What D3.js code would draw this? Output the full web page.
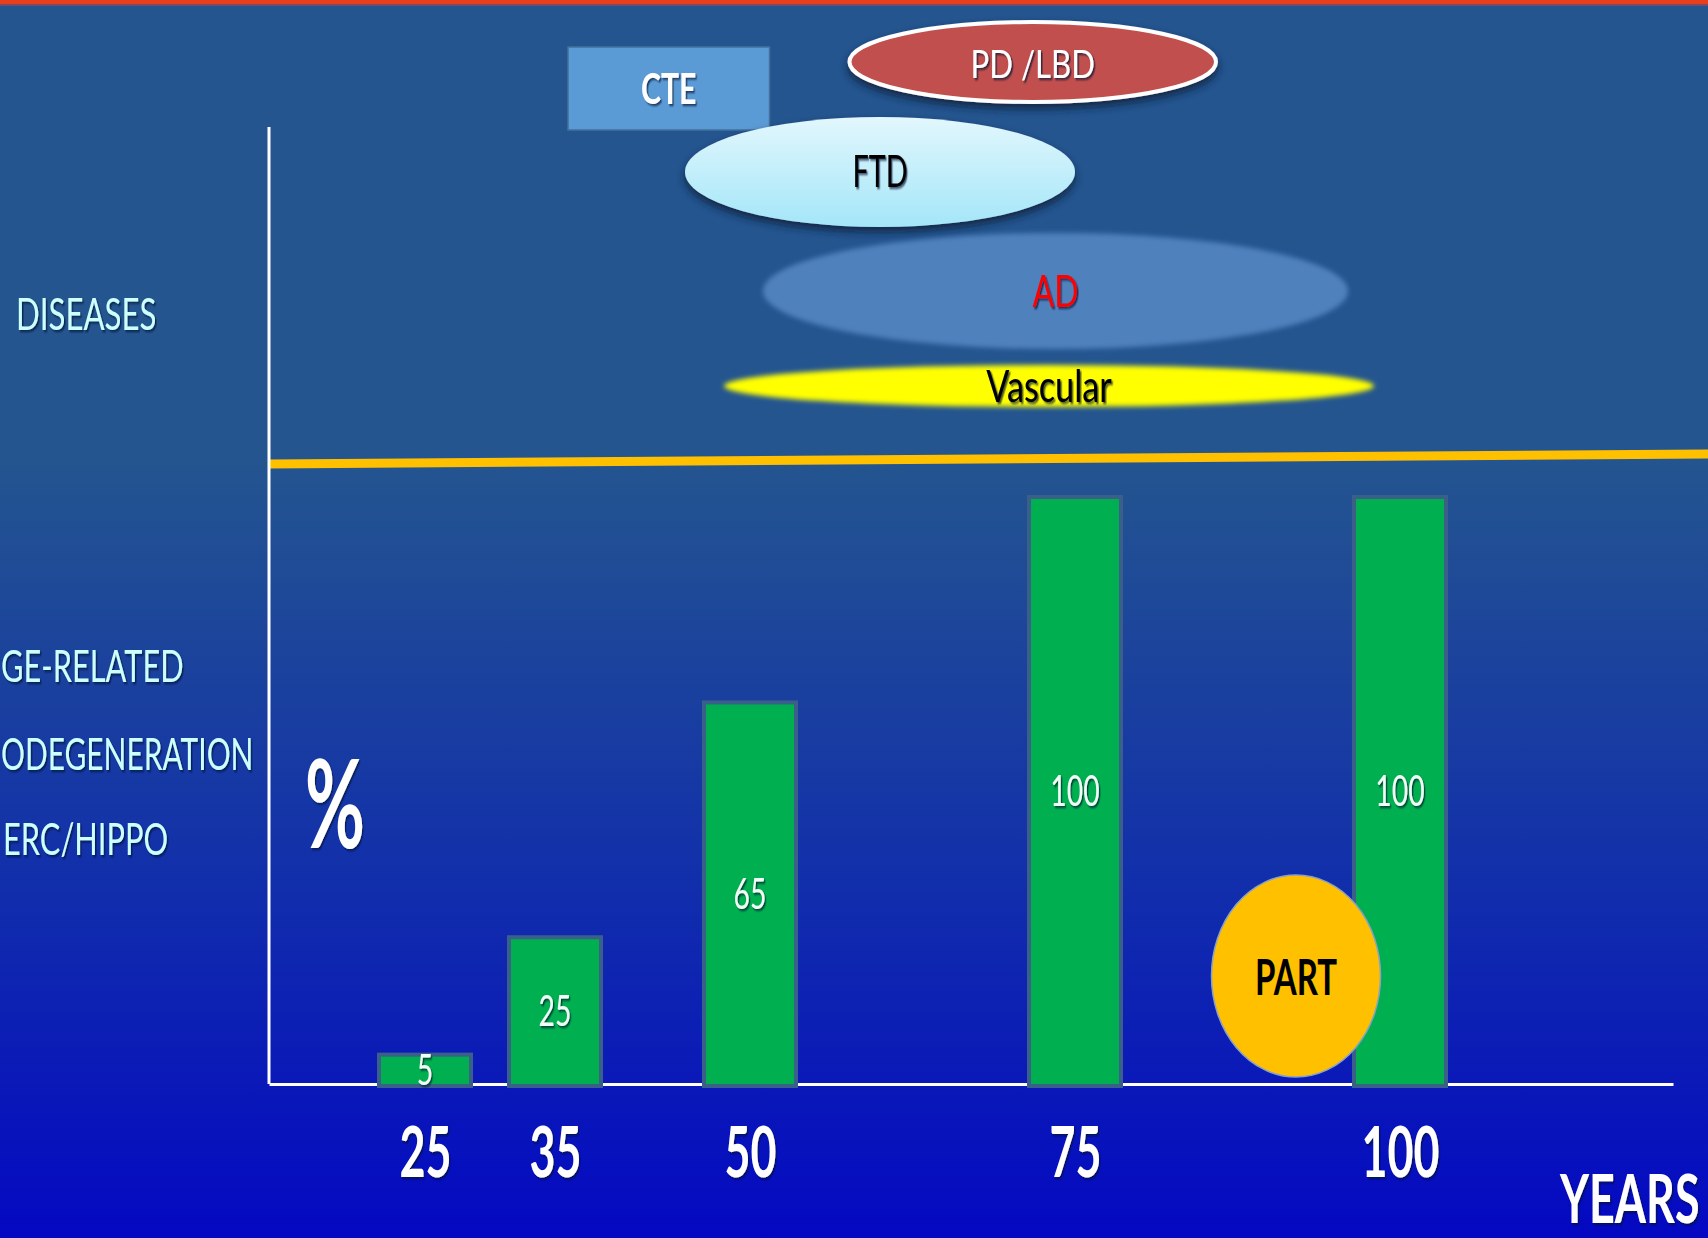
<!DOCTYPE html>
<html>
<head>
<meta charset="utf-8">
<script src="https://cdn.jsdelivr.net/npm/d3@7"></script>
<style>
  html, body { margin: 0; padding: 0; background: #24558f; overflow: hidden; }
  svg { display: block; font-family: Lato, "Open Sans", "DejaVu Sans", sans-serif; }
</style>
</head>
<body>
<svg id="chart" width="1708" height="1238"></svg>
<script>
// Ages (years) at which age-related neurodegeneration is shown
const ages = [25, 35, 50, 75, 100];
// Share of subjects (%) with age-related neurodegeneration in ERC/hippocampus
const percents = [5, 25, 65, 100, 100];

// Diseases and the age span (years) each one covers
const diseaseNames = ["CTE", "PD /LBD", "FTD", "AD", "Vascular"];
const diseaseAgeFrom = [36, 57.5, 45, 51, 48];
const diseaseAgeTo = [51.5, 86, 75, 96, 98];

// Primary age-related tauopathy and its age span
const partName = "PART";
const partAgeFrom = 85.5;
const partAgeTo = 98.5;

// Row captions
const diseaseRowLabel = "DISEASES";
const ageRowLabels = ["GE-RELATED", "ODEGENERATION", "ERC/HIPPO"];
const yUnitLabel = "%";
const xTitle = "YEARS";

// ---------------------------------------------------------------------------
const W = 1708, H = 1238;
const svg = d3.select("#chart");
const defs = svg.append("defs");

// Background: flat steel blue at the top, deepening to royal blue at the bottom
const bg = defs.append("linearGradient").attr("id", "bgGrad")
  .attr("x1", 0).attr("y1", 0).attr("x2", 0).attr("y2", 1);
bg.append("stop").attr("offset", "0").attr("stop-color", "#24558f");
bg.append("stop").attr("offset", "0.37").attr("stop-color", "#24558f");
bg.append("stop").attr("offset", "0.7").attr("stop-color", "#1230aa");
bg.append("stop").attr("offset", "1").attr("stop-color", "#0408c2");

const ftdGrad = defs.append("linearGradient").attr("id", "ftdGrad")
  .attr("x1", 0).attr("y1", 0).attr("x2", 0).attr("y2", 1);
ftdGrad.append("stop").attr("offset", "0").attr("stop-color", "#e2f7fd");
ftdGrad.append("stop").attr("offset", "1").attr("stop-color", "#a4e6f8");

const txtShadow = defs.append("filter").attr("id", "txt")
  .attr("x", "-20%").attr("y", "-30%").attr("width", "140%").attr("height", "160%");
txtShadow.append("feDropShadow").attr("dx", 2).attr("dy", 2).attr("stdDeviation", 0.8)
  .attr("flood-color", "#061033").attr("flood-opacity", 0.7);

const soft = defs.append("filter").attr("id", "soft")
  .attr("x", "-10%").attr("y", "-30%").attr("width", "120%").attr("height", "160%");
soft.append("feGaussianBlur").attr("stdDeviation", 2.5);

const drop = defs.append("filter").attr("id", "drop")
  .attr("x", "-10%").attr("y", "-20%").attr("width", "120%").attr("height", "160%");
drop.append("feDropShadow").attr("dx", 0).attr("dy", 5).attr("stdDeviation", 4)
  .attr("flood-color", "#0b1a3a").attr("flood-opacity", 0.85);

svg.append("rect").attr("width", W).attr("height", H).attr("fill", "url(#bgGrad)");
svg.append("rect").attr("width", W).attr("height", 4).attr("fill", "#e8401c");
svg.append("rect").attr("y", 4).attr("width", W).attr("height", 2).attr("fill", "#7a4a66");

// Scales
const x = d3.scaleLinear().domain([13, 121]).range([269, 1673]);
const y = d3.scaleLinear().domain([0, 100]).range([1084, 497]);

// Condensed text helper: horizontal squeeze around the anchor point
function label(g, str, px, py, o) {
  return g.append("text")
    .attr("transform", `translate(${px},${py}) scale(${o.sx || 0.7},1)`)
    .attr("text-anchor", o.anchor || "middle")
    .attr("font-size", o.size)
    .attr("font-weight", o.weight || 400)
    .attr("fill", o.fill || "#fff")
    .attr("filter", o.shadow === false ? null : "url(#txt)")
    .text(str);
}
const CAP = 0.358; // half cap-height of Lato, in em

// Disease shapes: row placement and look
const diseaseLook = {
  "CTE":      { kind: "rect", cy: 88.5, h: 83, fill: "#5b9bd5", stroke: "#41719c", sw: 1.5,
                text: "#ffffff", size: 42, weight: 700, sx: 0.72, ty: 89 },
  "PD /LBD":  { kind: "ellipse", cy: 62, ry: 42, fill: "#c0504d", stroke: "#ffffff", sw: 4,
                filter: "url(#drop)", text: "#ffffff", size: 39, weight: 400, sx: 0.8, ty: 64 },
  "FTD":      { kind: "ellipse", cy: 172, ry: 55, fill: "url(#ftdGrad)", stroke: "none", sw: 0,
                filter: "url(#drop)", text: "#000000", size: 45, weight: 400, sx: 0.64, ty: 171 },
  "AD":       { kind: "ellipse", cy: 291, ry: 58, fill: "#4f81bd", stroke: "none", sw: 0,
                filter: "url(#soft)", text: "#ff0000", size: 45, weight: 400, sx: 0.71, ty: 291 },
  "Vascular": { kind: "ellipse", cy: 386, ry: 21, fill: "#ffff00", stroke: "none", sw: 0,
                filter: "url(#soft)", text: "#000000", size: 45, weight: 400, sx: 0.76, ty: 386, base: 402 }
};

const diseases = diseaseNames.map((n, i) => ({ name: n, from: diseaseAgeFrom[i], to: diseaseAgeTo[i] }));
const gDis = svg.append("g").attr("class", "diseases");
diseases.forEach(d => {
  const L = diseaseLook[d.name];
  const x0 = x(d.from), x1 = x(d.to), cx = (x0 + x1) / 2;
  if (L.kind === "rect") {
    gDis.append("rect").attr("x", x0).attr("y", L.cy - L.h / 2)
      .attr("width", x1 - x0).attr("height", L.h)
      .attr("fill", L.fill).attr("stroke", L.stroke).attr("stroke-width", L.sw);
  } else {
    gDis.append("ellipse").attr("cx", cx).attr("cy", L.cy)
      .attr("rx", (x1 - x0) / 2 - L.sw / 2).attr("ry", L.ry - L.sw / 2)
      .attr("fill", L.fill).attr("stroke", L.stroke).attr("stroke-width", L.sw)
      .attr("filter", L.filter);
  }
  const base = L.base != null ? L.base : L.ty + CAP * L.size;
  label(gDis, d.name, cx, base, { size: L.size, weight: L.weight, fill: L.text, sx: L.sx });
});

// Separator between the diseases band and the age-related band
svg.append("line").attr("x1", 269).attr("y1", 464).attr("x2", W).attr("y2", 454)
  .attr("stroke", "#ffc000").attr("stroke-width", 9);

// Row captions on the left
const gLab = svg.append("g").attr("class", "row-labels");
label(gLab, diseaseRowLabel, 16, 330, { size: 44, sx: 0.71, anchor: "start", fill: "#ccffff" });
const ageRowStart = [1, 1, 3];
const ageRowBase = [682, 770, 855];
const ageRowSqueeze = [0.7, 0.68, 0.7];
ageRowLabels.forEach((t, i) => {
  label(gLab, t, ageRowStart[i], ageRowBase[i],
    { size: 44, sx: ageRowSqueeze[i], anchor: "start", fill: "#ccffff" });
});

// Y axis line
svg.append("line").attr("x1", 269).attr("x2", 269).attr("y1", 127).attr("y2", y(0))
  .attr("stroke", "#ffffff").attr("stroke-width", 3);

// X axis with age ticks
const xAxis = d3.axisBottom(x).tickValues(ages).tickSize(0).tickSizeOuter(0).tickPadding(0);
const gx = svg.append("g").attr("transform", `translate(0,${y(0)})`).call(xAxis);
gx.select(".domain").attr("stroke", "#ffffff").attr("stroke-width", 3);
gx.selectAll(".tick text")
  .attr("y", 93).attr("dy", 0)
  .attr("transform", "scale(0.64,1)")
  .attr("font-family", "Lato, 'Open Sans', sans-serif")
  .attr("font-size", 70).attr("font-weight", 700)
  .attr("fill", "#ffffff").attr("filter", "url(#txt)");

// Bars
const barW = 92;
const bars = ages.map((a, i) => ({ age: a, value: percents[i] }));
const gBars = svg.append("g").attr("class", "bars");
gBars.selectAll("rect").data(bars).join("rect")
  .attr("x", d => x(d.age) - barW / 2)
  .attr("y", d => y(d.value))
  .attr("width", barW)
  .attr("height", d => y(0) - y(d.value) + 2)
  .attr("fill", "#00b050")
  .attr("stroke", "#3a6089").attr("stroke-width", 4);
bars.forEach(d => {
  const cy = (y(d.value) + y(0)) / 2;
  label(gBars, String(d.value), x(d.age), cy + CAP * 43, { size: 43, sx: 0.66, fill: "#f2fff6" });
});

// PART bubble resting on the age axis
const pcx = x((partAgeFrom + partAgeTo) / 2);
const prx = (x(partAgeTo) - x(partAgeFrom)) / 2;
const pry = 101, pcy = y(0) - 108;
svg.append("ellipse").attr("cx", pcx).attr("cy", pcy).attr("rx", prx).attr("ry", pry)
  .attr("fill", "#ffc000").attr("stroke", "#8aa0c8").attr("stroke-width", 1.5);
label(svg, partName, pcx, pcy + 1 + CAP * 50, { size: 50, weight: 700, sx: 0.66, fill: "#000000", shadow: false });

// Unit and axis title
label(svg, yUnitLabel, 335, 848, { size: 122, weight: 700, sx: 0.6, fill: "#ffffff" });
label(svg, xTitle, 1560, 1223, { size: 66, weight: 700, sx: 0.68, anchor: "start", fill: "#ffffff" });
</script>
</body>
</html>
